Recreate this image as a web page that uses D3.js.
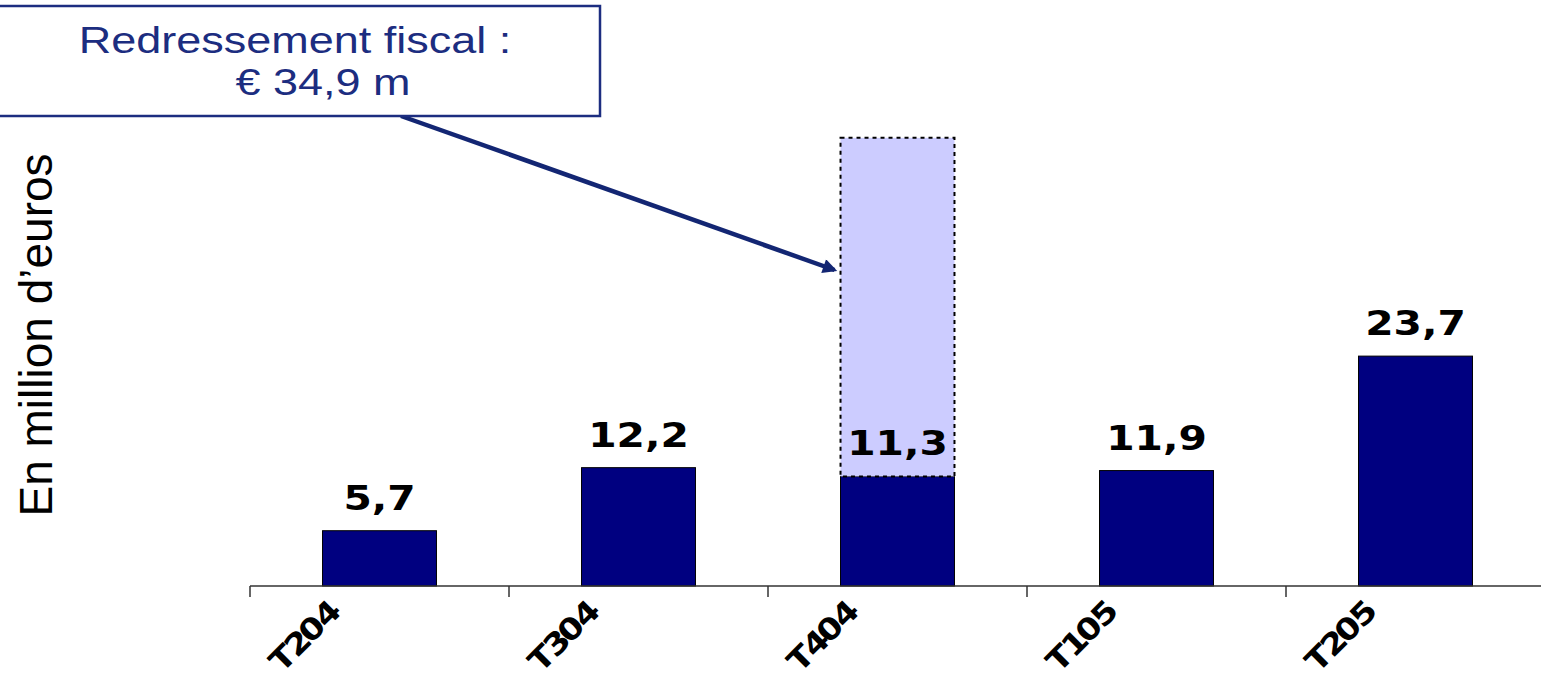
<!DOCTYPE html>
<html>
<head>
<meta charset="utf-8">
<script src="https://cdn.jsdelivr.net/npm/d3@7"></script>
<style>
  html, body { margin: 0; padding: 0; background: #ffffff; }
  svg { display: block; }
</style>
</head>
<body>
<svg id="chart" width="1541" height="680"></svg>
<script>
// Quarterly figures, in million euros
const categories = ["T2 04", "T3 04", "T4 04", "T1 05", "T2 05"];
const values = [5.7, 12.2, 11.3, 11.9, 23.7];
const valueLabels = ["5,7", "12,2", "11,3", "11,9", "23,7"];
// One-off tax adjustment stacked on top of the reported quarter
const adjustments = [0, 0, 34.9, 0, 0];
const calloutLines = ["Redressement fiscal :", "€ 34,9 m"];
const yTitle = "En million d\u2019euros";

const svg = d3.select("#chart");
const navy = "#000080";
const calloutBlue = "#1c2d80";
const arrowBlue = "#132673";

const x = d3.scaleBand().domain(categories).range([250, 1545]).padding(0);
const y = d3.scaleLinear().domain([0, 50]).range([586, 101]);
const barW = x.bandwidth() * 0.44;
const cx = c => x(c) + x.bandwidth() / 2;

// Base bars
svg.append("g").selectAll("rect")
  .data(categories)
  .join("rect")
  .attr("x", c => cx(c) - barW / 2)
  .attr("y", (c, i) => y(values[i]))
  .attr("width", barW)
  .attr("height", (c, i) => y(0) - y(values[i]))
  .attr("fill", navy)
  .attr("stroke", "#000")
  .attr("stroke-width", 1);

// Adjustment segment (dotted outline)
svg.append("g").selectAll("rect")
  .data(categories.filter((c, i) => adjustments[i] > 0))
  .join("rect")
  .attr("x", c => cx(c) - barW / 2)
  .attr("y", c => { const i = categories.indexOf(c); return y(values[i] + adjustments[i]); })
  .attr("width", barW)
  .attr("height", c => { const i = categories.indexOf(c); return y(values[i]) - y(values[i] + adjustments[i]); })
  .attr("fill", "#ccccff")
  .attr("stroke", "#000")
  .attr("stroke-width", 2)
  .attr("stroke-dasharray", "4,4");

// Category axis: baseline with ticks at band boundaries
const axis = svg.append("g");
axis.append("line")
  .attr("x1", x.range()[0]).attr("x2", x.range()[1])
  .attr("y1", y(0)).attr("y2", y(0))
  .attr("stroke", "#333").attr("stroke-width", 1.5);
const boundaries = categories.map(c => x(c)).concat([x.range()[1]]);
axis.selectAll("line.tick")
  .data(boundaries)
  .join("line")
  .attr("class", "tick")
  .attr("x1", d => d).attr("x2", d => d)
  .attr("y1", y(0)).attr("y2", y(0) + 11)
  .attr("stroke", "#333").attr("stroke-width", 1.5);

axis.selectAll("text")
  .data(categories)
  .join("text")
  .attr("transform", c => `translate(${cx(c) - 38},${y(0) + 28}) rotate(-45) scale(1.15,1)`)
  .attr("text-anchor", "end")
  .attr("font-family", "DejaVu Sans, sans-serif")
  .attr("font-weight", "bold")
  .attr("font-size", 30)
  .attr("letter-spacing", -2)
  .attr("word-spacing", -10)
  .attr("fill", "#000")
  .text(c => c);

// Value labels
svg.append("g").selectAll("text")
  .data(categories)
  .join("text")
  .attr("transform", (c, i) => `translate(${cx(c)},${y(values[i]) - 21}) scale(1.2,1)`)
  .attr("text-anchor", "middle")
  .attr("font-family", "DejaVu Sans, sans-serif")
  .attr("font-weight", "bold")
  .attr("font-size", 34)
  .attr("fill", "#000")
  .text((c, i) => valueLabels[i]);

// Vertical axis title
svg.append("text")
  .attr("transform", "translate(52,335) rotate(-90)")
  .attr("text-anchor", "middle")
  .attr("font-family", "Liberation Sans, Arial, sans-serif")
  .attr("font-size", 46)
  .attr("fill", "#000")
  .text(yTitle);

// Callout box with arrow pointing to the adjustment
const defs = svg.append("defs");
defs.append("marker")
  .attr("id", "arrowhead")
  .attr("viewBox", "0 0 10 10")
  .attr("refX", 8).attr("refY", 5)
  .attr("markerWidth", 3.6).attr("markerHeight", 3.2)
  .attr("markerUnits", "strokeWidth")
  .attr("orient", "auto")
  .append("path")
  .attr("d", "M0,0 L10,5 L0,10 Z")
  .attr("fill", arrowBlue);

const target = categories[2];
svg.append("line")
  .attr("x1", 401).attr("y1", 116)
  .attr("x2", cx(target) - barW / 2 - 6).attr("y2", 270)
  .attr("stroke", arrowBlue)
  .attr("stroke-width", 4.5)
  .attr("marker-end", "url(#arrowhead)");

svg.append("rect")
  .attr("x", -2).attr("y", 6)
  .attr("width", 602).attr("height", 110)
  .attr("fill", "#fff")
  .attr("stroke", calloutBlue)
  .attr("stroke-width", 2.5);

const calloutPos = [[295, 53], [323, 95]];
svg.append("g").selectAll("text")
  .data(calloutLines)
  .join("text")
  .attr("transform", (d, i) => `translate(${calloutPos[i][0]},${calloutPos[i][1]}) scale(1.25,1)`)
  .attr("text-anchor", "middle")
  .attr("font-family", "Liberation Sans, Arial, sans-serif")
  .attr("font-size", 36)
  .attr("fill", calloutBlue)
  .text(d => d);
</script>
</body>
</html>
